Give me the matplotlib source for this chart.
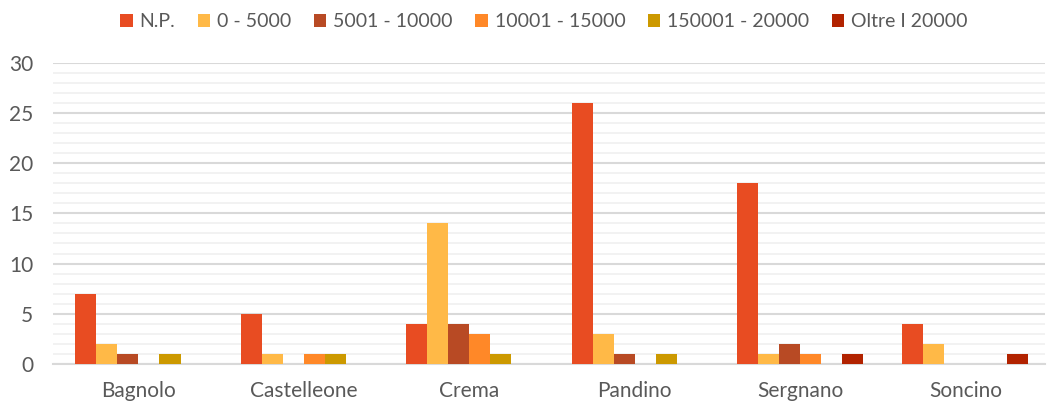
import numpy as np
import matplotlib
matplotlib.use("Agg")
import matplotlib.pyplot as plt
from matplotlib.ticker import MultipleLocator

plt.rcParams['font.family'] = ['Lato', 'DejaVu Sans']

comuni = ["Bagnolo", "Castelleone", "Crema", "Pandino", "Sergnano", "Soncino"]
fasce = ["N.P.", "0 - 5000", "5001 - 10000", "10001 - 15000", "150001 - 20000", "Oltre I 20000"]
np_vals = [7, 5, 4, 26, 18, 4]
f0_5000 = [2, 1, 14, 3, 1, 2]
f5001_10000 = [1, 0, 4, 1, 2, 0]
f10001_15000 = [0, 1, 3, 0, 1, 0]
f150001_20000 = [1, 1, 1, 1, 0, 0]
oltre_20000 = [0, 0, 0, 0, 1, 1]
series = [np_vals, f0_5000, f5001_10000, f10001_15000, f150001_20000, oltre_20000]
colors = ["#E84C22", "#FFB947", "#B84A24", "#FF8828", "#CC9900", "#B22300"]

fig = plt.figure(figsize=(10.5, 4.03), dpi=100)
ax = fig.add_axes([0.05, 0.097, 0.945, 0.747])

x = np.arange(len(comuni))
w = 0.127
for i, (vals, c) in enumerate(zip(series, colors)):
    ax.bar(x + (i - 2.5) * w, vals, width=w, color=c, label=fasce[i], zorder=3)

ax.set_xlim(-0.52, 5.48)
ax.set_ylim(0, 30)
ax.yaxis.set_major_locator(MultipleLocator(5))
ax.yaxis.set_minor_locator(MultipleLocator(1))
ax.grid(which='major', axis='y', color='#D9D9D9', linewidth=1.5, zorder=0)
ax.grid(which='minor', axis='y', color='#F0F0F0', linewidth=1.2, zorder=0)
for s in ['top', 'right', 'left']:
    ax.spines[s].set_visible(False)
ax.spines['bottom'].set_color('#D9D9D9')
ax.spines['bottom'].set_linewidth(1.5)
ax.set_xticks(x)
ax.set_xticklabels(comuni)
ax.tick_params(axis='both', which='both', length=0, labelsize=15, colors='#595959')
ax.tick_params(axis='x', pad=12)
ax.tick_params(axis='y', pad=14)

fig.legend(loc='upper center', bbox_to_anchor=(0.518, 1.01), ncol=6, frameon=False,
           fontsize=14, handlelength=0.65, handleheight=0.65, handletextpad=0.35,
           columnspacing=1.15, labelcolor='#595959')

fig.savefig("out.png", dpi=100)
